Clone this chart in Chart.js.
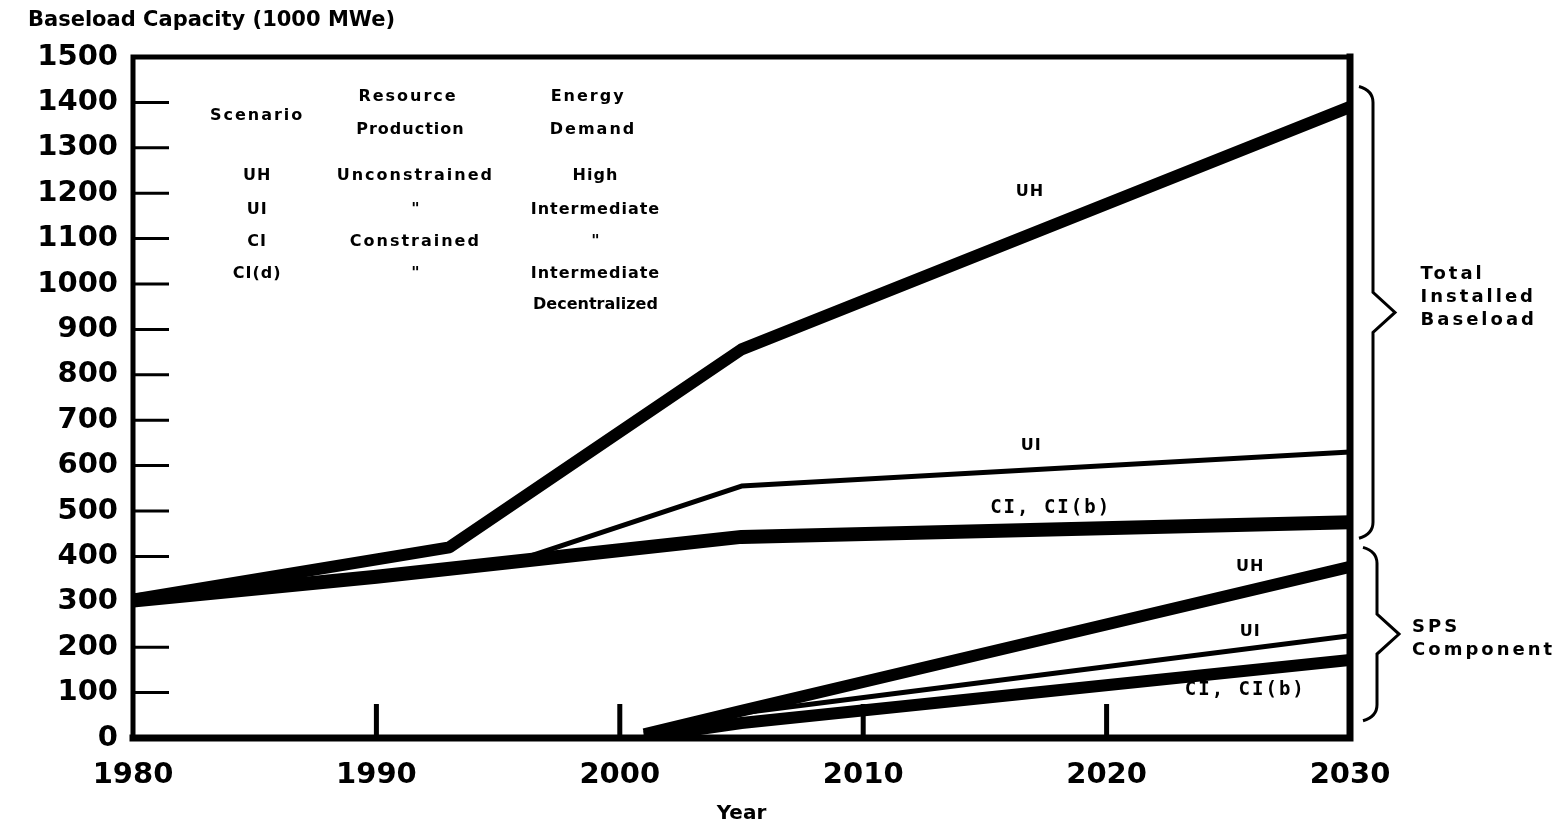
<!DOCTYPE html>
<html>
<head>
<meta charset="utf-8">
<script src="https://cdn.jsdelivr.net/npm/chart.js@4.4.1/dist/chart.umd.min.js"></script>
<style>
  html, body { margin: 0; padding: 0; background: #fff; }
</style>
</head>
<body>
<canvas id="Chart" width="1554" height="826"></canvas>
<script>
// axis ticks
const yearTicks = [1980, 1990, 2000, 2010, 2020, 2030];
const capacityTicks = [0, 100, 200, 300, 400, 500, 600, 700, 800, 900, 1000, 1100, 1200, 1300, 1400, 1500];

// total installed baseload (1000 MWe)
const totalUHYears = [1980, 1993, 2005, 2030];
const totalUH = [305, 420, 856, 1390];
const totalUIYears = [1980, 1996, 2005, 2030];
const totalUI = [303, 395, 555, 630];
const totalCIYears = [1980, 1990, 2005, 2030];
const totalCI = [303, 355, 443, 475];

// SPS component (1000 MWe)
const spsUHYears = [2001, 2005, 2030];
const spsUH = [8, 60, 377];
const spsUIYears = [2001, 2005, 2030];
const spsUI = [4, 55, 225];
const spsCIYears = [2001, 2005, 2030];
const spsCI = [2, 33, 172];

const pts = (xs, ys) => xs.map((x, i) => ({ x: x, y: ys[i] }));

const tableFont = "bold 16px 'DejaVu Sans'";
const lineFont = "bold 19px 'DejaVu Sans Mono'";
const sideFont = "bold 18px 'DejaVu Sans'";

// text notes, placed in data coordinates
const notes = [
  { t: "Scenario", x: 1985.1, y: 1371, f: tableFont, ls: 2 },
  { t: "Resource", x: 1991.3, y: 1413, f: tableFont, ls: 2 },
  { t: "Production", x: 1991.4, y: 1340, f: tableFont, ls: 1 },
  { t: "Energy", x: 1998.7, y: 1413, f: tableFont, ls: 2 },
  { t: "Demand", x: 1998.9, y: 1340, f: tableFont, ls: 2 },
  { t: "UH", x: 1985.1, y: 1239, f: tableFont, ls: 1 },
  { t: "UI", x: 1985.1, y: 1164, f: tableFont, ls: 1 },
  { t: "CI", x: 1985.1, y: 1093, f: tableFont, ls: 1 },
  { t: "CI(d)", x: 1985.1, y: 1023, f: tableFont, ls: 1 },
  { t: "Unconstrained", x: 1991.6, y: 1239, f: tableFont, ls: 2 },
  { t: "\"", x: 1991.6, y: 1164, f: tableFont, ls: 0 },
  { t: "Constrained", x: 1991.6, y: 1093, f: tableFont, ls: 2 },
  { t: "\"", x: 1991.6, y: 1023, f: tableFont, ls: 0 },
  { t: "High", x: 1999.0, y: 1239, f: tableFont, ls: 1 },
  { t: "Intermediate", x: 1999.0, y: 1164, f: tableFont, ls: 1 },
  { t: "\"", x: 1999.0, y: 1093, f: tableFont, ls: 0 },
  { t: "Intermediate", x: 1999.0, y: 1023, f: tableFont, ls: 1 },
  { t: "Decentralized", x: 1999.0, y: 955, f: tableFont, ls: 0 },
  { t: "UH", x: 2016.85, y: 1204, f: tableFont, ls: 1 },
  { t: "UI", x: 2016.9, y: 644, f: tableFont, ls: 1 },
  { t: "CI, CI(b)", x: 2017.7, y: 507, f: lineFont, ls: 2 },
  { t: "UH", x: 2025.9, y: 377, f: tableFont, ls: 1 },
  { t: "UI", x: 2025.9, y: 234, f: tableFont, ls: 1 },
  { t: "CI, CI(b)", x: 2025.7, y: 106, f: lineFont, ls: 2 },
  { t: "Total", x: 2032.9, y: 1021, f: sideFont, ls: 3, a: "left" },
  { t: "Installed", x: 2032.9, y: 970, f: sideFont, ls: 3, a: "left" },
  { t: "Baseload", x: 2032.9, y: 921, f: sideFont, ls: 3, a: "left" },
  { t: "SPS", x: 2032.55, y: 243, f: sideFont, ls: 3, a: "left" },
  { t: "Component", x: 2032.55, y: 194, f: sideFont, ls: 3, a: "left" },
];

// braces: x offset from plot right edge, value range
const braces = [
  { dx: 23, top: 1435, bottom: 440 },
  { dx: 27, top: 420, bottom: 38 },
];

function drawBrace(ctx, x, yTop, yBot) {
  const yMid = (yTop + yBot) / 2;
  ctx.beginPath();
  ctx.moveTo(x - 14, yTop);
  ctx.quadraticCurveTo(x, yTop + 4, x, yTop + 16);
  ctx.lineTo(x, yMid - 20);
  ctx.lineTo(x + 22, yMid);
  ctx.lineTo(x, yMid + 20);
  ctx.lineTo(x, yBot - 16);
  ctx.quadraticCurveTo(x, yBot - 4, x - 14, yBot);
  ctx.stroke();
}

const framePlugin = {
  id: "frame",
  afterDatasetsDraw(chart) {
    const ctx = chart.ctx;
    const a = chart.chartArea;
    const xs = chart.scales.x, ys = chart.scales.y;
    ctx.save();
    ctx.strokeStyle = "#000";
    ctx.lineCap = "square";
    // frame
    ctx.lineWidth = 5;
    ctx.beginPath();
    ctx.moveTo(a.left, a.top); ctx.lineTo(a.right, a.top);
    ctx.moveTo(a.left, a.top); ctx.lineTo(a.left, a.bottom);
    ctx.stroke();
    ctx.lineWidth = 7;
    ctx.beginPath();
    ctx.moveTo(a.left, a.bottom); ctx.lineTo(a.right, a.bottom);
    ctx.moveTo(a.right, a.top); ctx.lineTo(a.right, a.bottom);
    ctx.stroke();
    // inside tick marks
    ctx.lineCap = "butt";
    ctx.lineWidth = 3;
    ctx.beginPath();
    capacityTicks.slice(1, -1).forEach(v => {
      const y = ys.getPixelForValue(v);
      ctx.moveTo(a.left, y); ctx.lineTo(a.left + 36, y);
    });
    ctx.stroke();
    ctx.lineWidth = 5;
    ctx.beginPath();
    yearTicks.slice(1, -1).forEach(v => {
      const x = xs.getPixelForValue(v);
      ctx.moveTo(x, a.bottom); ctx.lineTo(x, a.bottom - 34);
    });
    ctx.stroke();
    // braces
    ctx.lineWidth = 3;
    braces.forEach(b => {
      drawBrace(ctx, a.right + b.dx, ys.getPixelForValue(b.top), ys.getPixelForValue(b.bottom));
    });
    // texts
    ctx.fillStyle = "#000";
    ctx.textBaseline = "middle";
    notes.forEach(n => {
      ctx.font = n.f;
      ctx.letterSpacing = (n.ls || 0) + "px";
      ctx.textAlign = n.a || "center";
      ctx.fillText(n.t, xs.getPixelForValue(n.x), ys.getPixelForValue(n.y));
    });
    // title
    ctx.font = "bold 21px 'DejaVu Sans'";
    ctx.letterSpacing = "0px";
    ctx.textAlign = "left";
    ctx.fillText("Baseload Capacity (1000 MWe)", 28, 21);
    ctx.restore();
  },
};

const lineSet = (data, width) => ({
  data: data,
  borderColor: "#000",
  borderWidth: width,
  pointRadius: 0,
  tension: 0,
  fill: false,
  borderCapStyle: "butt",
  borderJoinStyle: "round",
});

const tickFont = { family: "DejaVu Sans", weight: "bold", size: 29 };

const ctx = document.getElementById("Chart").getContext("2d");
new Chart(ctx, {
  type: "line",
  data: {
    datasets: [
      lineSet(pts(totalUHYears, totalUH), 12),
      lineSet(pts(totalUIYears, totalUI), 5),
      lineSet(pts(totalCIYears, totalCI), 14),
      lineSet(pts(spsUHYears, spsUH), 12),
      lineSet(pts(spsUIYears, spsUI), 5),
      lineSet(pts(spsCIYears, spsCI), 12),
    ],
  },
  options: {
    responsive: false,
    animation: false,
    layout: { padding: { left: 0, right: 204, top: 57, bottom: 0 } },
    plugins: { legend: { display: false }, tooltip: { enabled: false } },
    scales: {
      x: {
        type: "linear",
        min: 1980,
        max: 2030,
        afterBuildTicks: s => { s.ticks = yearTicks.map(v => ({ value: v })); },
        afterFit: s => { s.height = 88; },
        grid: { display: false, drawTicks: false },
        border: { display: false },
        ticks: { font: tickFont, color: "#000", padding: 20, maxRotation: 0, callback: v => String(v) },
        title: {
          display: true,
          text: "Year",
          color: "#000",
          font: { family: "DejaVu Sans", weight: "bold", size: 20 },
          padding: { top: 0, bottom: 0 },
        },
      },
      y: {
        min: 0,
        max: 1500,
        afterBuildTicks: s => { s.ticks = capacityTicks.map(v => ({ value: v })); },
        afterFit: s => { s.width = 133; },
        grid: { display: false, drawTicks: false },
        border: { display: false },
        ticks: { font: tickFont, color: "#000", padding: 15, callback: v => String(v) },
      },
    },
  },
  plugins: [framePlugin],
});
</script>
</body>
</html>
